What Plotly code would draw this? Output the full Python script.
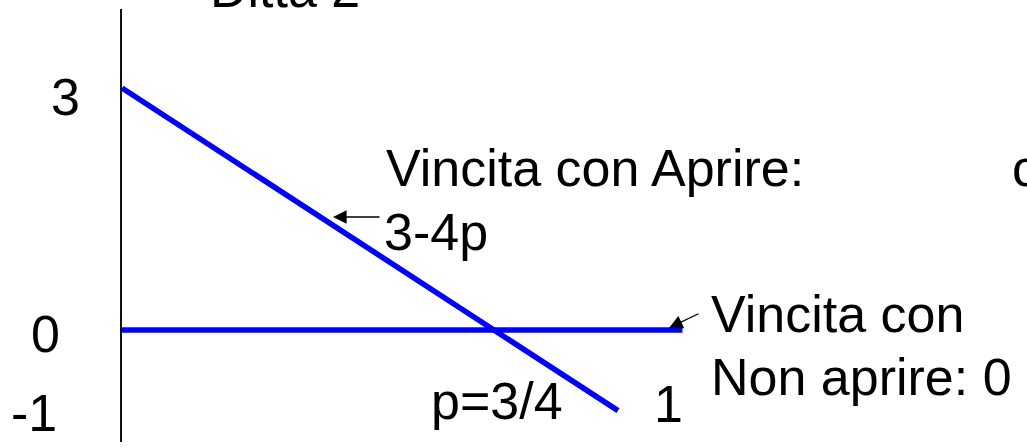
import plotly.graph_objects as go

# Payoff of Ditta 2 as a function of p
p_open = [0, 1]
payoff_open = [3, -1]          # 3 - 4p
p_stay = [0, 1.13]
payoff_stay = [0, 0]           # Non aprire: 0

W, H = 1027, 447
L, R, T, B = 122, 0, 9, 5
PLOT_W = W - L - R
PLOT_H = H - T - B
X_PER_UNIT = 496.0
Y_PER_UNIT = 80.667
Y_ZERO_PX = 330.0

x_range = [0, PLOT_W / X_PER_UNIT]
y_top = (Y_ZERO_PX - T) / Y_PER_UNIT
y_bot = (Y_ZERO_PX - (H - B)) / Y_PER_UNIT


def px_x(px):
    return (px - L) / PLOT_W


def px_y(py):
    return (H - B - py) / PLOT_H


BLUE = "#0000FF"
FONT = dict(family="Liberation Sans, Arial, sans-serif", size=52, color="black")

fig = go.Figure()
fig.add_trace(go.Scatter(x=p_stay, y=payoff_stay, mode="lines",
                         line=dict(color=BLUE, width=5.5), hoverinfo="skip"))
fig.add_trace(go.Scatter(x=p_open, y=payoff_open, mode="lines",
                         line=dict(color=BLUE, width=5.5), hoverinfo="skip"))

labels = [
    ("Ditta 2", 208, -11, "left"),
    ("3", 65, 97, "center"),
    ("0", 45, 334, "center"),
    ("-1", 34, 413, "center"),
    ("Vincita con Aprire:", 384, 168, "left"),
    ("c", 1010, 168, "left"),
    ("3-4p", 382, 232, "left"),
    ("p=3/4", 429, 401, "left"),
    ("1", 668, 404, "center"),
    ("Vincita con", 709, 314, "left"),
    ("Non aprire: 0", 709, 377, "left"),
]
annotations = []
for text, px, py, anchor in labels:
    annotations.append(dict(
        text=text, x=px_x(px), y=px_y(py), xref="paper", yref="paper",
        xanchor=anchor, yanchor="middle", showarrow=False, font=FONT,
    ))

# pointer arrows: (tip x, tip y, tail offset x, tail offset y) in pixels
arrows = [(333, 217, 48, 0), (669, 328, 31, -15)]
for tx, ty, ax, ay in arrows:
    annotations.append(dict(
        text="", x=px_x(tx), y=px_y(ty), xref="paper", yref="paper",
        ax=ax, ay=ay, showarrow=True, arrowhead=2, arrowsize=2.1,
        arrowwidth=1.3, arrowcolor="black", standoff=0,
    ))

fig.update_layout(
    width=W, height=H,
    margin=dict(l=L, r=R, t=T, b=B),
    paper_bgcolor="white", plot_bgcolor="white",
    showlegend=False,
    xaxis=dict(range=x_range, visible=False, fixedrange=True),
    yaxis=dict(range=[y_bot, y_top], showgrid=False, zeroline=False,
               showticklabels=False, ticks="", showline=True,
               linecolor="#111111", linewidth=1.5, fixedrange=True),
    annotations=annotations,
)

fig.write_html("out.html", config={"displayModeBar": False})
